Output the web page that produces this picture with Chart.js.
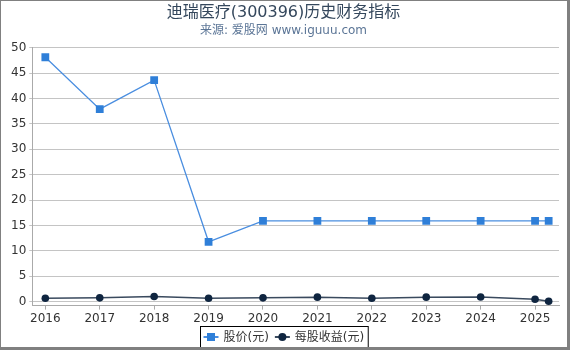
<!DOCTYPE html>
<html>
<head>
<meta charset="utf-8">
<script src="https://cdn.jsdelivr.net/npm/chart.js@4"></script>
<style>
  body { margin: 0; background: #fff; }
  #wrap {
    width: 570px; height: 350px; box-sizing: border-box;
    border-style: solid; border-color: #808080;
    border-width: 1px 3px 3px 1px;
  }
  canvas { display: block; }
</style>
</head>
<body>
<div id="wrap"><canvas id="chart" width="566" height="346"></canvas></div>
<script>
var years = [2016, 2017, 2018, 2019, 2020, 2021, 2022, 2023, 2024, 2025, 2025.25];
var price = [48.1, 37.9, 43.6, 11.8, 15.9, 15.9, 15.9, 15.9, 15.9, 15.9, 15.9];
var eps = [0.71, 0.77, 1.05, 0.71, 0.77, 0.91, 0.71, 0.91, 0.93, 0.5, 0.12];
var yearTicks = [2016, 2017, 2018, 2019, 2020, 2021, 2022, 2023, 2024, 2025];
var yTicks = [0, 5, 10, 15, 20, 25, 30, 35, 40, 45, 50];

var font = "'DejaVu Sans', 'Noto Sans CJK SC', sans-serif";

function pts(vals) {
  return vals.map(function (v, i) { return { x: years[i], y: v }; });
}

// legend box drawn at the bottom, line + marker style
var boxLegend = {
  id: "boxLegend",
  afterDraw: function (chart) {
    var ctx = chart.ctx;
    var items = chart.data.datasets;
    ctx.save();
    ctx.font = "12px " + font;
    var widths = items.map(function (d) { return 15 + 5 + ctx.measureText(d.label).width; });
    var total = 3 + widths.reduce(function (a, b) { return a + b; }, 0) + 6 * (items.length - 1) + 4;
    var x = Math.round(chart.width / 2 - total / 2) + 0.5;
    var y = 325.5;
    var h = 21;
    ctx.strokeStyle = "#000";
    ctx.lineWidth = 1;
    ctx.strokeRect(x, y, total, h);
    var cx = x + 3;
    var cy = y + h / 2;
    items.forEach(function (d, i) {
      ctx.strokeStyle = d.borderColor;
      ctx.lineWidth = 2;
      ctx.beginPath();
      ctx.moveTo(cx, cy);
      ctx.lineTo(cx + 15, cy);
      ctx.stroke();
      ctx.fillStyle = d.pointBackgroundColor;
      if (d.pointStyle === "rect") {
        ctx.fillRect(cx + 3.5, cy - 4, 8, 8);
      } else {
        ctx.beginPath();
        ctx.arc(cx + 7.5, cy, 4, 0, Math.PI * 2);
        ctx.fill();
      }
      ctx.fillStyle = "#333";
      ctx.textBaseline = "middle";
      ctx.fillText(d.label, cx + 20, cy + 1);
      cx += widths[i] + 6;
    });
    ctx.restore();
  }
};

new Chart(document.getElementById("chart").getContext("2d"), {
  type: "line",
  data: {
    datasets: [
      {
        label: "股价(元)",
        data: pts(price),
        borderColor: "#4a8ee0",
        borderWidth: 1.3,
        pointStyle: "rect",
        pointRadius: 5.5,
        pointBackgroundColor: "#2f7fd8",
        pointBorderColor: "#2f7fd8",
        pointBorderWidth: 0
      },
      {
        label: "每股收益(元)",
        data: pts(eps),
        borderColor: "#3a4a5e",
        borderWidth: 1.5,
        pointStyle: "circle",
        pointRadius: 3.8,
        pointBackgroundColor: "#0f2540",
        pointBorderColor: "#0f2540",
        pointBorderWidth: 0
      }
    ]
  },
  options: {
    responsive: false,
    animation: false,
    layout: { padding: { left: 7, right: 8, top: 0, bottom: 19 } },
    plugins: {
      legend: { display: false },
      tooltip: { enabled: false },
      title: {
        display: true,
        text: "迪瑞医疗(300396)历史财务指标",
        color: "#34475c",
        font: { family: font, size: 16, weight: "normal" },
        padding: { top: 2, bottom: 1 }
      },
      subtitle: {
        display: true,
        text: "来源: 爱股网 www.iguuu.com",
        color: "#5b7596",
        font: { family: font, size: 12, weight: "normal" },
        padding: { top: 0, bottom: 10 }
      }
    },
    scales: {
      x: {
        type: "linear",
        min: 2015.76,
        max: 2025.44,
        afterBuildTicks: function (axis) {
          axis.ticks = yearTicks.map(function (v) { return { value: v }; });
        },
        ticks: {
          color: "#333",
          font: { family: font, size: 12 },
          maxRotation: 0,
          autoSkip: false,
          padding: 2,
          callback: function (v) { return String(v); }
        },
        grid: { drawOnChartArea: false, color: "#aaa", tickLength: 4 },
        border: { color: "#aaa" }
      },
      y: {
        min: -0.75,
        max: 50,
        afterBuildTicks: function (axis) {
          axis.ticks = yTicks.map(function (v) { return { value: v }; });
        },
        ticks: {
          color: "#333",
          font: { family: font, size: 12 },
          padding: 3
        },
        grid: { color: "#c4c4c4", tickLength: 3 },
        border: { color: "#aaa" }
      }
    }
  },
  plugins: [boxLegend]
});
</script>
</body>
</html>
